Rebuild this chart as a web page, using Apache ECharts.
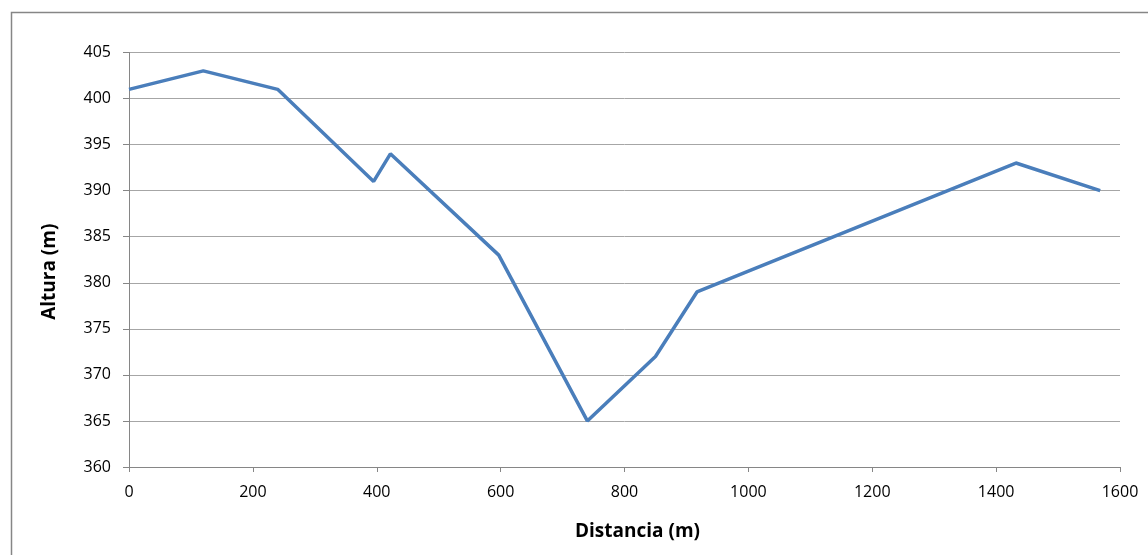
<!DOCTYPE html>
<html><head><meta charset="utf-8">
<script src="https://cdn.jsdelivr.net/npm/echarts@6/dist/echarts.min.js"></script>
<style>html,body{margin:0;padding:0;background:#fff}#c{width:1148px;height:555px}</style>
</head><body><div id="c"></div>
<script>
const distances = [0, 120, 240, 395, 422, 597, 740, 850, 917, 1432, 1568];
const heights = [401, 403, 401, 391, 394, 383, 365, 372, 379, 393, 390];
const xTitle = 'Distancia (m)';
const yTitle = 'Altura (m)';

const chart = echarts.init(document.getElementById('c'), null, {renderer: 'canvas'});
const font = '"Open Sans", sans-serif';
chart.setOption({
  animation: false,
  backgroundColor: '#fff',
  graphic: [{
    type: 'rect', left: 9, top: 10, shape: {width: 1300, height: 700},
    style: {fill: 'none', stroke: '#868686', lineWidth: 1.5}, z: 0, silent: true
  }],
  grid: {left: 129, top: 52.5, right: 28, bottom: 88, containLabel: false},
  xAxis: {
    type: 'value', min: 0, max: 1600, interval: 200,
    name: xTitle, nameLocation: 'middle', nameGap: 55,
    nameTextStyle: {fontFamily: font, fontSize: 19, fontWeight: 'bold', color: '#000', padding: [0, 0, 0, 26]},
    axisLine: {show: true, lineStyle: {color: '#868686', width: 1}},
    axisTick: {show: true, length: 5, lineStyle: {color: '#868686'}},
    axisLabel: {fontFamily: font, fontSize: 16, color: '#000', margin: 17, formatter: v => String(v)},
    splitLine: {show: false}
  },
  yAxis: {
    type: 'value', min: 360, max: 405, interval: 5,
    name: yTitle, nameLocation: 'middle', nameGap: 70, nameRotate: 90,
    nameTextStyle: {fontFamily: font, fontSize: 19, fontWeight: 'bold', color: '#000', padding: [0, 24, 0, 0]},
    axisLine: {show: true, lineStyle: {color: '#868686', width: 1}},
    axisTick: {show: true, length: 6, lineStyle: {color: '#868686'}},
    axisLabel: {fontFamily: font, fontSize: 16, color: '#000', margin: 18, formatter: v => String(v)},
    splitLine: {show: true, lineStyle: {color: '#a6a6a6', width: 1}}
  },
  series: [{
    type: 'line',
    data: distances.map((d, i) => [d, heights[i]]),
    showSymbol: false, symbol: 'none',
    lineStyle: {color: '#4a7ebb', width: 3.5},
    itemStyle: {color: '#4a7ebb'}
  }]
});
</script></body></html>
